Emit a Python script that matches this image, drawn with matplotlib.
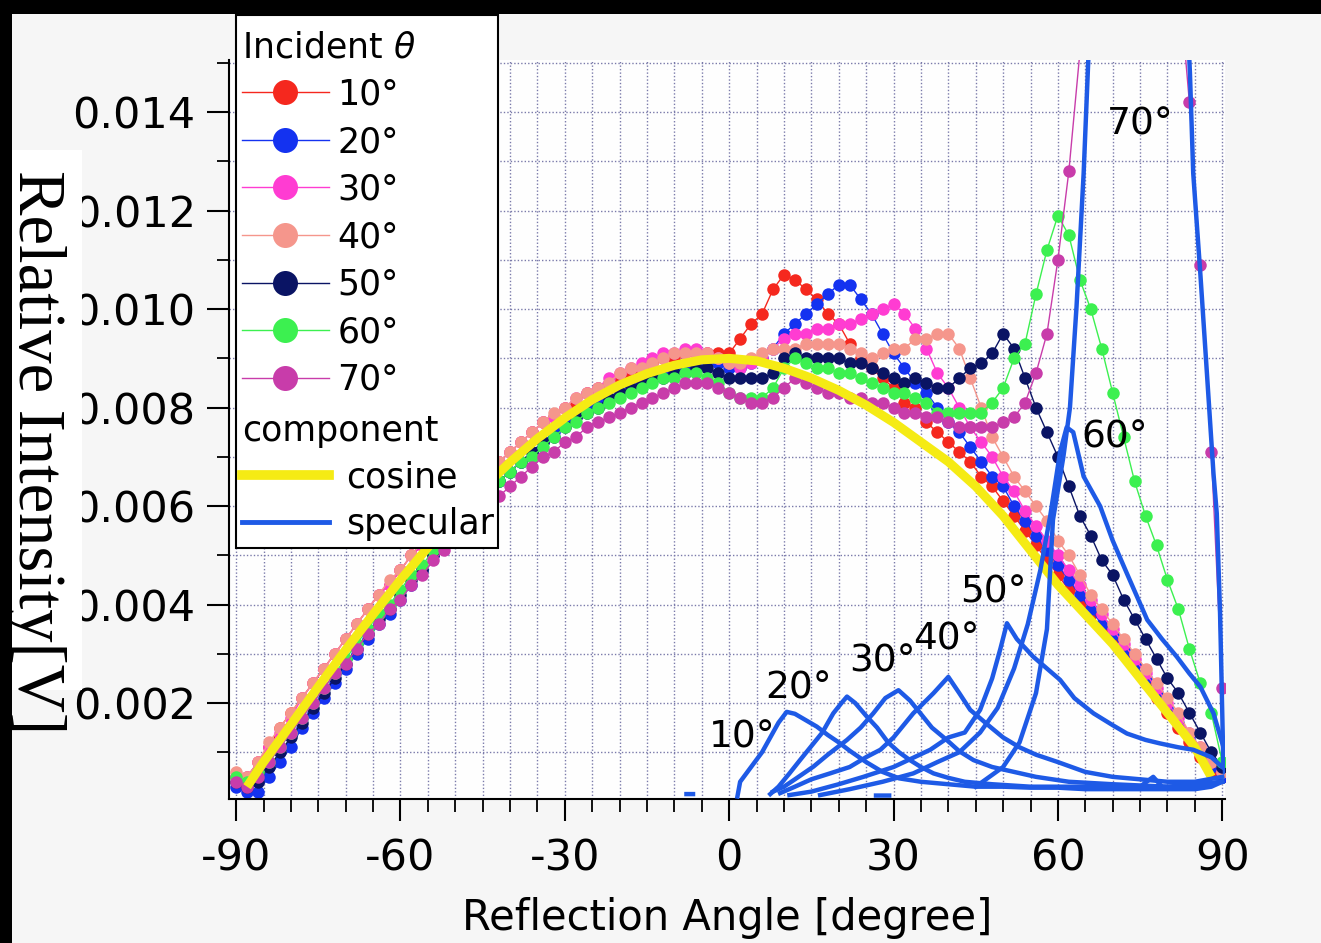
import numpy as np
import matplotlib
matplotlib.use("Agg")
import matplotlib.pyplot as plt
from matplotlib.lines import Line2D
from matplotlib.patches import Rectangle
from matplotlib.ticker import MultipleLocator, FormatStrFormatter

plt.rcParams["font.family"] = ["DejaVu Sans"]
plt.rcParams["axes.unicode_minus"] = False

# reflection angle grid of the measured points [degree]
angles = list(range(-90, 92, 2))

# measured intensity for each incident angle (-90 .. 0, then 2 .. 90)
inc10 = [
    0.0005, 0.0005, 0.0008, 0.0011, 0.0015, 0.0018, 0.0021, 0.0024, 0.0027, 0.0030,
    0.0033, 0.0036, 0.0039, 0.0042, 0.0044, 0.0047, 0.0050, 0.0052, 0.0055, 0.0058,
    0.0060, 0.0062, 0.0065, 0.0067, 0.0069, 0.0071, 0.0073, 0.0075, 0.0077, 0.0078,
    0.0080, 0.0081, 0.0083, 0.0084, 0.0085, 0.0086, 0.0087, 0.0088, 0.0089, 0.0090,
    0.0090, 0.0091, 0.0091, 0.0091, 0.0091, 0.0091,
    0.0094, 0.0097, 0.0099, 0.0104, 0.0107, 0.0106, 0.0104, 0.0102, 0.0099, 0.0097,
    0.0093, 0.0090, 0.0088, 0.0086, 0.0084, 0.0081, 0.0080, 0.0077, 0.0075, 0.0073,
    0.0071, 0.0069, 0.0066, 0.0064, 0.0061, 0.0058, 0.0055, 0.0052, 0.0049, 0.0046,
    0.0043, 0.0040, 0.0038, 0.0035, 0.0033, 0.0030, 0.0028, 0.0024, 0.0021, 0.0018,
    0.0015, 0.0012, 0.0009, 0.0006, 0.0005,
]
inc20 = [
    0.0003, 0.0002, 0.0002, 0.0005, 0.0008, 0.0011, 0.0015, 0.0018, 0.0021, 0.0024,
    0.0027, 0.0030, 0.0033, 0.0036, 0.0038, 0.0041, 0.0044, 0.0047, 0.0050, 0.0053,
    0.0056, 0.0058, 0.0060, 0.0063, 0.0065, 0.0067, 0.0069, 0.0071, 0.0073, 0.0075,
    0.0077, 0.0078, 0.0080, 0.0081, 0.0082, 0.0083, 0.0085, 0.0086, 0.0086, 0.0087,
    0.0088, 0.0088, 0.0089, 0.0089, 0.0089, 0.0088,
    0.0088, 0.0089, 0.0090, 0.0092, 0.0095, 0.0097, 0.0099, 0.0101, 0.0103, 0.0105,
    0.0105, 0.0102, 0.0099, 0.0095, 0.0091, 0.0088, 0.0085, 0.0083, 0.0080, 0.0077,
    0.0075, 0.0072, 0.0069, 0.0066, 0.0064, 0.0060, 0.0057, 0.0054, 0.0051, 0.0048,
    0.0045, 0.0042, 0.0039, 0.0036, 0.0034, 0.0031, 0.0028, 0.0025, 0.0022, 0.0019,
    0.0016, 0.0013, 0.0010, 0.0007, 0.0005,
]
inc30 = [
    0.0005, 0.0005, 0.0008, 0.0011, 0.0014, 0.0017, 0.0021, 0.0024, 0.0027, 0.0030,
    0.0033, 0.0036, 0.0039, 0.0042, 0.0044, 0.0047, 0.0050, 0.0052, 0.0055, 0.0057,
    0.0060, 0.0062, 0.0064, 0.0067, 0.0069, 0.0071, 0.0073, 0.0075, 0.0077, 0.0078,
    0.0080, 0.0082, 0.0083, 0.0084, 0.0086, 0.0087, 0.0088, 0.0089, 0.0090, 0.0091,
    0.0091, 0.0092, 0.0092, 0.0091, 0.0090, 0.0089,
    0.0088, 0.0089, 0.0090, 0.0092, 0.0094, 0.0095, 0.0095, 0.0096, 0.0096, 0.0097,
    0.0097, 0.0098, 0.0099, 0.0100, 0.0101, 0.0099, 0.0096, 0.0092, 0.0087, 0.0084,
    0.0080, 0.0076, 0.0073, 0.0070, 0.0066, 0.0063, 0.0059, 0.0056, 0.0053, 0.0050,
    0.0047, 0.0044, 0.0041, 0.0038, 0.0035, 0.0032, 0.0029, 0.0026, 0.0023, 0.0020,
    0.0017, 0.0014, 0.0011, 0.0008, 0.0006,
]
inc40 = [
    0.0006, 0.0005, 0.0008, 0.0012, 0.0015, 0.0018, 0.0021, 0.0024, 0.0027, 0.0030,
    0.0033, 0.0036, 0.0039, 0.0042, 0.0045, 0.0047, 0.0050, 0.0053, 0.0055, 0.0058,
    0.0060, 0.0063, 0.0065, 0.0067, 0.0069, 0.0071, 0.0073, 0.0075, 0.0077, 0.0079,
    0.0080, 0.0082, 0.0083, 0.0084, 0.0085, 0.0087, 0.0088, 0.0088, 0.0089, 0.0090,
    0.0091, 0.0091, 0.0091, 0.0091, 0.0090, 0.0089,
    0.0089, 0.0090, 0.0091, 0.0092, 0.0092, 0.0092, 0.0093, 0.0093, 0.0093, 0.0093,
    0.0092, 0.0091, 0.0090, 0.0091, 0.0092, 0.0092, 0.0094, 0.0094, 0.0095, 0.0095,
    0.0092, 0.0086, 0.0080, 0.0074, 0.0070, 0.0066, 0.0063, 0.0060, 0.0057, 0.0053,
    0.0050, 0.0046, 0.0042, 0.0039, 0.0036, 0.0033, 0.0030, 0.0027, 0.0024, 0.0021,
    0.0018, 0.0014, 0.0011, 0.0008, 0.0006,
]
inc50 = [
    0.0004, 0.0003, 0.0004, 0.0007, 0.0010, 0.0013, 0.0016, 0.0019, 0.0022, 0.0025,
    0.0028, 0.0031, 0.0034, 0.0037, 0.0039, 0.0042, 0.0045, 0.0047, 0.0050, 0.0053,
    0.0055, 0.0058, 0.0060, 0.0062, 0.0065, 0.0067, 0.0069, 0.0071, 0.0073, 0.0074,
    0.0076, 0.0078, 0.0079, 0.0080, 0.0082, 0.0083, 0.0084, 0.0085, 0.0086, 0.0086,
    0.0087, 0.0087, 0.0088, 0.0088, 0.0087, 0.0086,
    0.0086, 0.0086, 0.0086, 0.0087, 0.0090, 0.0091, 0.0090, 0.0090, 0.0090, 0.0090,
    0.0089, 0.0089, 0.0088, 0.0087, 0.0086, 0.0085, 0.0086, 0.0085, 0.0084, 0.0084,
    0.0086, 0.0088, 0.0089, 0.0091, 0.0095, 0.0092, 0.0086, 0.0080, 0.0075, 0.0070,
    0.0064, 0.0058, 0.0054, 0.0049, 0.0046, 0.0041, 0.0037, 0.0033, 0.0029, 0.0025,
    0.0022, 0.0018, 0.0014, 0.0010, 0.0007,
]
inc60 = [
    0.0005, 0.0004, 0.0006, 0.0008, 0.0011, 0.0014, 0.0017, 0.0020, 0.0023, 0.0026,
    0.0029, 0.0032, 0.0035, 0.0038, 0.0040, 0.0043, 0.0046, 0.0048, 0.0051, 0.0053,
    0.0056, 0.0058, 0.0060, 0.0063, 0.0065, 0.0067, 0.0069, 0.0070, 0.0072, 0.0074,
    0.0076, 0.0077, 0.0079, 0.0080, 0.0081, 0.0082, 0.0083, 0.0084, 0.0085, 0.0086,
    0.0086, 0.0087, 0.0087, 0.0086, 0.0085, 0.0083,
    0.0082, 0.0082, 0.0082, 0.0084, 0.0088, 0.0090, 0.0089, 0.0088, 0.0088, 0.0087,
    0.0087, 0.0086, 0.0085, 0.0084, 0.0083, 0.0083, 0.0082, 0.0081, 0.0079, 0.0079,
    0.0079, 0.0079, 0.0079, 0.0081, 0.0084, 0.0090, 0.0093, 0.0103, 0.0112, 0.0119,
    0.0115, 0.0106, 0.0100, 0.0092, 0.0083, 0.0074, 0.0065, 0.0058, 0.0052, 0.0045,
    0.0039, 0.0031, 0.0024, 0.0018, 0.0008,
]
inc70 = [
    0.0004, 0.0003, 0.0005, 0.0008, 0.0011, 0.0014, 0.0017, 0.0020, 0.0023, 0.0026,
    0.0028, 0.0031, 0.0034, 0.0036, 0.0039, 0.0041, 0.0044, 0.0046, 0.0049, 0.0051,
    0.0053, 0.0055, 0.0058, 0.0060, 0.0062, 0.0064, 0.0066, 0.0068, 0.0070, 0.0071,
    0.0073, 0.0074, 0.0076, 0.0077, 0.0078, 0.0079, 0.0080, 0.0081, 0.0082, 0.0083,
    0.0084, 0.0085, 0.0085, 0.0085, 0.0084, 0.0083,
    0.0082, 0.0081, 0.0081, 0.0082, 0.0084, 0.0086, 0.0085, 0.0084, 0.0083, 0.0083,
    0.0082, 0.0082, 0.0081, 0.0081, 0.0080, 0.0079, 0.0079, 0.0078, 0.0078, 0.0077,
    0.0076, 0.0076, 0.0076, 0.0076, 0.0077, 0.0078, 0.0081, 0.0087, 0.0095, 0.0110,
    0.0128, 0.0152, 0.0180, 0.0205, 0.0225, 0.0235, 0.0235, 0.0225, 0.0210, 0.0190,
    0.0168, 0.0142, 0.0109, 0.0071, 0.0023,
]

incident_labels = ["10°", "20°", "30°", "40°", "50°", "60°", "70°"]
incident_colors = ["#f5281e", "#1432f0", "#ff3cd2", "#f5968c", "#0a1464", "#3cf050", "#c83caa"]
incident_data = [inc10, inc20, inc30, inc40, inc50, inc60, inc70]

# cosine component
cos_angles = [-88, -85, -80, -75, -70, -65, -60, -55, -50, -45, -40, -35, -30, -25, -20,
              -15, -10, -5, 0, 5, 10, 15, 20, 25, 30, 35, 40, 45, 50, 55, 60, 65, 70,
              75, 80, 85, 88]
cos_vals = [0.0003, 0.0008, 0.00156, 0.00233, 0.00308, 0.0038, 0.0045, 0.00516, 0.00579,
            0.00636, 0.00689, 0.00737, 0.00779, 0.00816, 0.00846, 0.00869, 0.00886, 0.00897,
            0.0090, 0.00895, 0.0088, 0.0086, 0.00835, 0.00805, 0.0077, 0.0073, 0.0069,
            0.0064, 0.0058, 0.0051, 0.0044, 0.0038, 0.0032, 0.0025, 0.0018, 0.0011, 0.0005]

# specular components
spec10_x = [1.5, 2, 4, 6, 8, 9, 10.5, 12, 14, 16, 18, 20, 22, 25, 28, 31, 35, 40, 45, 50,
            55, 60, 65, 70, 75, 80, 85, 88, 90]
spec10_y = [0.0001, 0.0004, 0.0007, 0.0010, 0.0014, 0.0016, 0.00182, 0.00178, 0.00165,
            0.00152, 0.00135, 0.0012, 0.00103, 0.0008, 0.0006, 0.00047, 0.0004, 0.00035,
            0.0003, 0.0003, 0.00028, 0.00028, 0.00025, 0.00025, 0.00025, 0.00025, 0.00025,
            0.0003, 0.0004]
spec20_x = [7.5, 9, 11, 13, 15.4, 17, 19, 20.5, 21.5, 23, 25, 27, 29, 31, 33, 35, 37.3, 40,
            43, 48, 55, 62, 70, 75, 77.4, 79, 85, 90]
spec20_y = [0.00015, 0.0003, 0.00057, 0.00085, 0.00118, 0.0014, 0.00179, 0.0020, 0.00213,
            0.0020, 0.00174, 0.0015, 0.0012, 0.0010, 0.00084, 0.0007, 0.00057, 0.00048,
            0.0004, 0.00035, 0.0003, 0.0003, 0.0003, 0.0003, 0.0005, 0.0003, 0.0003, 0.0004]
spec30_x = [8, 10, 12, 15.4, 18, 21.5, 24, 26.3, 28.5, 30.9, 33, 34.9, 37, 39.7, 42, 44.6,
            48, 52, 56, 62, 70, 80, 90]
spec30_y = [0.0002, 0.0003, 0.00045, 0.00071, 0.00095, 0.00125, 0.0015, 0.00179, 0.0021,
            0.00226, 0.00205, 0.00179, 0.0015, 0.00125, 0.00102, 0.00084, 0.0007, 0.0006,
            0.0005, 0.0004, 0.00035, 0.0003, 0.0004]
spec40_x = [9.3, 12, 15, 18.4, 22, 25, 27.6, 30, 33.6, 37.3, 40, 42, 44, 47.6, 50, 53, 56,
            60, 65, 70, 75, 80, 85, 90]
spec40_y = [0.00017, 0.0003, 0.00045, 0.00057, 0.0007, 0.0009, 0.00105, 0.0013, 0.00179,
            0.0022, 0.00253, 0.0022, 0.00186, 0.00152, 0.0013, 0.0011, 0.00095, 0.0008,
            0.0006, 0.0005, 0.00045, 0.0004, 0.0004, 0.0005]
spec50_x = [11, 15, 20, 24.5, 30, 36.7, 40, 43, 45.8, 48, 49.5, 50.7, 52.5, 55.5, 58, 60.4,
            63, 66.5, 70, 72.6, 76, 78.6, 82, 84.7, 88, 90]
spec50_y = [0.00013, 0.0002, 0.00035, 0.0005, 0.0007, 0.00105, 0.0013, 0.0014, 0.00186,
            0.0025, 0.0031, 0.00362, 0.0033, 0.00294, 0.0027, 0.00247, 0.0021, 0.00179,
            0.00155, 0.00138, 0.00125, 0.00118, 0.0011, 0.00105, 0.0009, 0.0007]
spec60_x = [16.6, 22, 28, 33.6, 38, 42, 45.8, 49, 52, 54.5, 56.8, 58.6, 60.4, 61.6, 62.8,
            64.7, 67.7, 70, 72.6, 76.3, 79, 81.7, 84, 86, 88.4, 90.2, 90.5]
spec60_y = [0.00013, 0.00025, 0.0004, 0.00057, 0.0008, 0.0010, 0.0014, 0.0019, 0.0027,
            0.0036, 0.0047, 0.0058, 0.0071, 0.0076, 0.0075, 0.0066, 0.0060, 0.0053, 0.00463,
            0.00369, 0.0033, 0.00294, 0.0026, 0.00233, 0.00179, 0.00111, 0.0006]
spec70_x = [-7.8, -6.6, np.nan, 26.8, 29.2, np.nan, 45, 50, 53, 56, 58, 59.1, 61, 62.2,
            63.4, 64.7, 65.6, 67, 70, 75, 80, 84.1, 84.7, 86, 87.2, 88.4, 89, 89.6, 89.9, 90.2]
spec70_y = [0.00015, 0.00015, np.nan, 0.00012, 0.00012, np.nan, 0.0003, 0.0007, 0.0012,
            0.0022, 0.0035, 0.00572, 0.0070, 0.0080, 0.01005, 0.01276, 0.0152, 0.019, 0.024,
            0.027, 0.025, 0.0148, 0.01276, 0.01072, 0.0087, 0.00666, 0.00585, 0.00382,
            0.00233, 0.00078]

specular = [(spec10_x, spec10_y), (spec20_x, spec20_y), (spec30_x, spec30_y),
            (spec40_x, spec40_y), (spec50_x, spec50_y), (spec60_x, spec60_y),
            (spec70_x, spec70_y)]

# label positions for the specular peaks (angle, intensity)
peak_labels = [("10°", 2.4, 0.00129), ("20°", 12.6, 0.0023), ("30°", 27.9, 0.00284),
               ("40°", 39.6, 0.00328), ("50°", 48.2, 0.00425), ("60°", 70.3, 0.0074),
               ("70°", 75.0, 0.01374)]

COS_COLOR = "#f5eb14"
SPEC_COLOR = "#1e5ae6"
GRID_COLOR = "#7a7aaa"

fig = plt.figure(figsize=(13.21, 9.43), dpi=100, facecolor="#f6f6f6")
ax = fig.add_axes([0.17335, 0.1527, 0.75397, 0.78367])
ax.set_facecolor("#fefefe")

for vals, col in zip(incident_data, incident_colors):
    ax.plot(angles, vals, color=col, lw=1.0, marker="o", markersize=9,
            markeredgewidth=0, zorder=2)

ax.plot(cos_angles, cos_vals, color=COS_COLOR, lw=6.5, solid_capstyle="butt", zorder=3)

for sx, sy in specular:
    ax.plot(sx, sy, color=SPEC_COLOR, lw=3.2, zorder=4)

for txt, px, py in peak_labels:
    ax.text(px, py, txt, fontsize=27, ha="center", va="center", zorder=5)

ax.set_xlim(-91.3, 90.5)
ax.set_ylim(0.00005, 0.01506)

ax.xaxis.set_major_locator(MultipleLocator(30))
ax.xaxis.set_minor_locator(MultipleLocator(5))
ax.yaxis.set_minor_locator(MultipleLocator(0.001))
ax.set_yticks([0.002, 0.004, 0.006, 0.008, 0.010, 0.012, 0.014])
ax.yaxis.set_major_formatter(FormatStrFormatter("%.3f"))

ax.grid(True, which="both", color=GRID_COLOR, lw=1.0, linestyle=(0, (1, 1.5)))
ax.set_axisbelow(True)

for side in ["top", "right"]:
    ax.spines[side].set_visible(False)
for side in ["left", "bottom"]:
    ax.spines[side].set_linewidth(1.5)

ax.tick_params(which="major", direction="out", length=16, width=1.5, labelsize=31)
ax.tick_params(axis="y", which="major", pad=8)
ax.tick_params(axis="x", which="major", pad=12)
ax.tick_params(which="minor", direction="out", length=9, width=1.3)

ax.set_xlabel("Reflection Angle [degree]", fontsize=30, labelpad=12)

# legend box
fig.add_artist(Rectangle((236 / 1321, 1 - 548 / 943), 262 / 1321, 533 / 943,
                         transform=fig.transFigure, facecolor="white",
                         edgecolor="black", lw=1.5, zorder=4))

inc_handles = [Line2D([], [], color=c, lw=1.0, marker="o", markersize=18,
                      markeredgewidth=0, label=l)
               for c, l in zip(incident_colors, incident_labels)]
leg1 = fig.legend(handles=inc_handles, title="Incident $\\theta$", loc="upper left",
                  bbox_to_anchor=(242 / 1321, 1 - 30 / 943), frameon=False,
                  fontsize=25, title_fontsize=25, alignment="left", borderpad=0,
                  borderaxespad=0, handlelength=2.5, handletextpad=0.25,
                  labelspacing=0.39)
leg1.set_zorder(6)

comp_handles = [Line2D([], [], color=COS_COLOR, lw=7, label="cosine"),
                Line2D([], [], color=SPEC_COLOR, lw=3.5, label="specular")]
leg2 = fig.legend(handles=comp_handles, title="component", loc="upper left",
                  bbox_to_anchor=(242 / 1321, 1 - 414 / 943), frameon=False,
                  fontsize=25, title_fontsize=25, alignment="left", borderpad=0,
                  borderaxespad=0, handlelength=2.5, handletextpad=0.5,
                  labelspacing=0.36)
leg2.set_zorder(6)

# white box behind the y label, then the label itself
fig.add_artist(Rectangle((12 / 1321, 1 - 690 / 943), 70 / 1321, 540 / 943,
                         transform=fig.transFigure, facecolor="white",
                         edgecolor="none", zorder=2))
fig.text(35 / 1321, 1 - 452 / 943, "Relative Intensity[V]", rotation=270,
         ha="center", va="center", fontfamily="Liberation Serif", fontsize=48,
         zorder=3)

# black screen borders
fig.add_artist(Rectangle((0, 1 - 14 / 943), 1, 14 / 943, transform=fig.transFigure,
                         facecolor="black", edgecolor="none", zorder=10))
fig.add_artist(Rectangle((0, 0), 12 / 1321, 1, transform=fig.transFigure,
                         facecolor="black", edgecolor="none", zorder=10))

fig.savefig("out.png", dpi=100, facecolor=fig.get_facecolor())
